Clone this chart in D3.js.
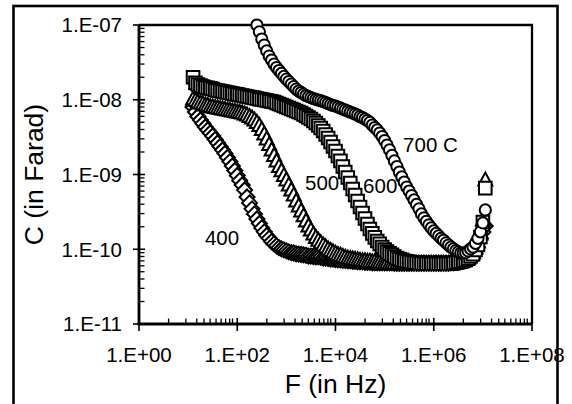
<!DOCTYPE html>
<html>
<head>
<meta charset="utf-8">
<script src="https://cdn.jsdelivr.net/npm/d3@7"></script>
<style>
  html, body { margin: 0; padding: 0; background: #fff; }
  svg text { font-family: "Liberation Sans", Arial, sans-serif; fill: #000; }
</style>
</head>
<body>
<svg id="chart" width="572" height="404"></svg>
<script>
// sweep frequencies (Hz), shared by every curve
const freqHz = [
  12.6, 14.1, 15.8, 17.8, 20.0, 22.4, 25.1, 28.2, 31.6, 35.5,
  39.8, 44.7, 50.1, 56.2, 63.1, 70.8, 79.4, 89.1, 100, 112,
  126, 141, 158, 178, 200, 224, 251, 282, 316, 355,
  398, 447, 501, 562, 631, 708, 794, 891, 1000, 1120,
  1260, 1410, 1580, 1780, 2000, 2240, 2510, 2820, 3160, 3550,
  3980, 4470, 5010, 5620, 6310, 7080, 7940, 8910, 1.00e4, 1.12e4,
  1.26e4, 1.41e4, 1.58e4, 1.78e4, 2.00e4, 2.24e4, 2.51e4, 2.82e4, 3.16e4, 3.55e4,
  3.98e4, 4.47e4, 5.01e4, 5.62e4, 6.31e4, 7.08e4, 7.94e4, 8.91e4, 1.00e5, 1.12e5,
  1.26e5, 1.41e5, 1.58e5, 1.78e5, 2.00e5, 2.24e5, 2.51e5, 2.82e5, 3.16e5, 3.55e5,
  3.98e5, 4.47e5, 5.01e5, 5.62e5, 6.31e5, 7.08e5, 7.94e5, 8.91e5, 1.00e6, 1.12e6,
  1.26e6, 1.41e6, 1.58e6, 1.78e6, 2.00e6, 2.24e6, 2.51e6, 2.82e6, 3.16e6, 3.55e6,
  3.98e6, 4.47e6, 5.01e6, 5.62e6, 6.31e6, 7.08e6, 7.94e6, 8.91e6, 1.00e7, 1.12e7
];

// capacitance in pF for each temperature
const c400 = [
  8000, 6860, 5970, 5360, 4810, 4330, 3940, 3590, 3270, 2940,
  2640, 2370, 2130, 1910, 1690, 1490, 1300, 1130, 969, 830,
  724, 621, 500, 417, 347, 297, 254, 221, 193, 171,
  153, 140, 127, 118, 111, 105, 101, 98, 95, 92,
  90, 89, 87, 86, 85, 84, 83, 81, 81, 80,
  79, 79, 78, 76, 76, 75, 74, 74, 73, 72,
  72, 71, 71, 70, 70, 69, 69, 68, 68, 68,
  67, 67, 67, 66, 66, 66, 66, 66, 66, 66,
  66, 66, 65, 65, 65, 65, 65, 65, 65, 65,
  65, 65, 65, 65, 65, 65, 65, 65, 65, 65,
  65, 65, 65, 65, 65, 66, 66, 67, 68, 69,
  71, 74, 78, 84, 92, 105, 122, 140, 170, 205
];
const c500 = [
  10200, 9770, 9340, 9050, 8780, 8510, 8380, 8120, 8000, 7880,
  7760, 7640, 7520, 7400, 7290, 7180, 7070, 6970, 6860, 6760,
  6650, 6450, 6250, 5970, 5700, 5360, 4970, 4520, 4000, 3480,
  2990, 2520, 2130, 1800, 1520, 1280, 1120, 969, 843, 724,
  621, 532, 442, 379, 326, 280, 239, 205, 181, 160,
  144, 132, 122, 114, 107, 101, 96, 92, 88, 85,
  83, 80, 78, 76, 75, 74, 73, 72, 71, 70,
  70, 69, 69, 68, 68, 67, 67, 66, 66, 66,
  65, 65, 65, 64, 64, 64, 64, 64, 64, 64,
  64, 64, 64, 64, 64, 64, 64, 64, 64, 64,
  64, 64, 64, 64, 64, 64, 65, 66, 67, 68,
  70, 73, 76, 83, 90, 104, 125, 160, 246, 843
];
const c600 = [
  20000, 16800, 16000, 15500, 15000, 14600, 14400, 14200, 13900, 13500,
  13300, 13100, 12900, 12700, 12500, 12300, 12100, 11900, 11800, 11600,
  11400, 11200, 11050, 10900, 10700, 10600, 10400, 10200, 10100, 9920,
  9770, 9630, 9480, 9340, 9050, 8780, 8510, 8250, 8000, 7760,
  7520, 7290, 7070, 6860, 6650, 6350, 6070, 5790, 5530, 5200,
  4890, 4520, 4190, 3820, 3430, 3080, 2720, 2370, 2060, 1770,
  1520, 1280, 1080, 912, 770, 640, 532, 442, 368, 306,
  258, 218, 187, 163, 144, 129, 118, 107, 99, 93,
  88, 84, 80, 76, 74, 72, 70, 69, 68, 67,
  66, 66, 65, 65, 64, 64, 64, 64, 64, 64,
  64, 64, 64, 64, 64, 64, 65, 66, 67, 68,
  70, 72, 75, 80, 86, 98, 114, 146, 232, 657
];
// 700 C is off the top of the scale below ~250 Hz
const c700 = [
  null, null, null, null, null, null, null, null, null, null,
  null, null, null, null, null, null, null, null, null, null,
  null, null, null, null, null, null, 100000, 81000, 65000, 54000,
  45000, 38500, 34000, 30000, 27000, 24600, 22500, 20500, 18900, 17500,
  16200, 15000, 13900, 13100, 12500, 11900, 11400, 11000, 10700, 10400,
  10100, 9900, 9750, 9480, 9190, 8910, 8640, 8380, 8250, 8000,
  7760, 7520, 7290, 7070, 6860, 6650, 6450, 6250, 5970, 5790,
  5530, 5280, 4970, 4590, 4250, 3950, 3590, 3220, 2850, 2480,
  2130, 1800, 1520, 1280, 1080, 927, 794, 680, 601, 524,
  457, 398, 347, 297, 263, 236, 212, 193, 176, 163,
  151, 140, 132, 122, 114, 107, 101, 96, 92, 89,
  89, 90, 95, 101, 107, 120, 140, 171, 225, 336
];

const seriesShapes = ['diamond', 'triangle', 'square', 'circle'];

const xTicks = [1, 1e2, 1e4, 1e6, 1e8];
const xTickLabels = ['1.E+00', '1.E+02', '1.E+04', '1.E+06', '1.E+08'];
// minor tick multipliers inside each 2-decade step
const xMinorMult = [4, 9, 15, 21, 28, 37, 47, 58, 70, 80];
const yTicks = [1e-11, 1e-10, 1e-9, 1e-8, 1e-7];
const yTickLabels = ['1.E-11', '1.E-10', '1.E-09', '1.E-08', '1.E-07'];

// curve labels: [text, frequency Hz, capacitance F] at left/baseline
const curveLabels = [
  ['400', 22, 1.14e-10],
  ['500', 2400, 6.2e-10],
  ['600', 36500, 5.65e-10],
  ['700 C', 2.38e5, 2.0e-9]
];

const plot = { left: 139, right: 532, top: 25, bottom: 324 };

const svg = d3.select('#chart');
svg.append('rect').attr('width', 572).attr('height', 404).attr('fill', '#fff');

const x = d3.scaleLog().domain([1, 1e8]).range([plot.left, plot.right]);
const y = d3.scaleLog().domain([1e-11, 1e-7]).range([plot.bottom, plot.top]);

// plot frame (top and right)
svg.append('path')
    .attr('d', `M${plot.left},${plot.top}H${plot.right}V${plot.bottom}`)
    .attr('fill', 'none').attr('stroke', '#000').attr('stroke-width', 2.3);

// minor ticks
const yMinor = [];
yTicks.slice(0, -1).forEach(t => { for (let k = 2; k <= 9; k++) yMinor.push(t * k); });
svg.append('g').selectAll('line').data(yMinor).join('line')
    .attr('x1', plot.left).attr('x2', plot.left + 5.5)
    .attr('y1', d => y(d)).attr('y2', d => y(d))
    .attr('stroke', '#000').attr('stroke-width', 1.3);

const xMinor = [];
xTicks.slice(0, -1).forEach(t => xMinorMult.forEach(k => xMinor.push(t * k)));
svg.append('g').selectAll('line').data(xMinor).join('line')
    .attr('x1', d => x(d)).attr('x2', d => x(d))
    .attr('y1', plot.bottom).attr('y2', plot.bottom - 5.5)
    .attr('stroke', '#000').attr('stroke-width', 1.3);

// major ticks cross the axis
svg.append('g').selectAll('line').data(yTicks).join('line')
    .attr('x1', plot.left - 6).attr('x2', plot.left + 6)
    .attr('y1', d => y(d)).attr('y2', d => y(d))
    .attr('stroke', '#000').attr('stroke-width', 1.6);
svg.append('g').selectAll('line').data(xTicks).join('line')
    .attr('x1', d => x(d)).attr('x2', d => x(d))
    .attr('y1', plot.bottom - 6).attr('y2', plot.bottom + 7)
    .attr('stroke', '#000').attr('stroke-width', 1.6);

// axis lines
svg.append('line')
    .attr('x1', plot.left).attr('x2', plot.left)
    .attr('y1', plot.top).attr('y2', plot.bottom)
    .attr('stroke', '#000').attr('stroke-width', 2.8);
svg.append('line')
    .attr('x1', plot.left - 1.4).attr('x2', plot.right)
    .attr('y1', plot.bottom).attr('y2', plot.bottom)
    .attr('stroke', '#000').attr('stroke-width', 3);

// tick labels
svg.append('g').selectAll('text').data(yTicks).join('text')
    .attr('x', 122).attr('y', d => y(d)).attr('dy', '0.36em')
    .attr('text-anchor', 'end').attr('font-size', 20.5)
    .text((d, i) => yTickLabels[i]);
svg.append('g').selectAll('text').data(xTicks).join('text')
    .attr('x', d => x(d)).attr('y', 362)
    .attr('text-anchor', 'middle').attr('font-size', 20.5)
    .text((d, i) => xTickLabels[i]);

// axis titles
svg.append('text')
    .attr('x', (plot.left + plot.right) / 2).attr('y', 393)
    .attr('text-anchor', 'middle').attr('font-size', 26.5)
    .text('F (in Hz)');
svg.append('text')
    .attr('transform', `translate(43,${(plot.top + plot.bottom) / 2}) rotate(-90)`)
    .attr('text-anchor', 'middle').attr('font-size', 26.5)
    .text('C (in Farad)');

// markers
const markerPath = {
    diamond: 'M0,-7.5L7.5,0L0,7.5L-7.5,0Z',
    triangle: 'M0,-7.5L7,5.5L-7,5.5Z',
    square: 'M-6.3,-6.3H6.3V6.3H-6.3Z',
};
const allSeries = [c400, c500, c600, c700];
allSeries.forEach((vals, si) => {
    const pts = freqHz.map((f, i) => ({ f, c: vals[i] == null ? null : vals[i] * 1e-12 }))
        .filter(d => d.c != null);
    const g = svg.append('g');
    const shape = seriesShapes[si];
    if (shape === 'circle') {
        g.selectAll('circle').data(pts).join('circle')
            .attr('cx', d => x(d.f)).attr('cy', d => y(d.c)).attr('r', 5.6)
            .attr('fill', '#fff').attr('stroke', '#000').attr('stroke-width', 2);
    } else {
        g.selectAll('path').data(pts).join('path')
            .attr('d', markerPath[shape])
            .attr('transform', d => `translate(${x(d.f)},${y(d.c)})`)
            .attr('fill', '#fff').attr('stroke', '#000').attr('stroke-width', 2);
    }
});

// curve labels
svg.append('g').selectAll('text').data(curveLabels).join('text')
    .attr('x', d => x(d[1])).attr('y', d => y(d[2]))
    .attr('font-size', 20.5)
    .text(d => d[0]);

// chart outer border
svg.append('rect')
    .attr('x', 13.5).attr('y', 6).attr('width', 544).attr('height', 430)
    .attr('fill', 'none').attr('stroke', '#000').attr('stroke-width', 2.6);
</script>
</body>
</html>
